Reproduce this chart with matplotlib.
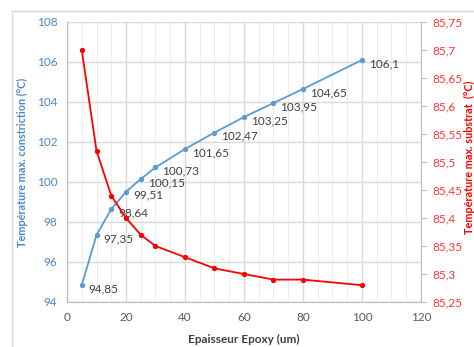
import matplotlib
matplotlib.use("Agg")
import matplotlib.pyplot as plt
from matplotlib.ticker import MultipleLocator, FuncFormatter
from matplotlib.patches import Rectangle

epaisseur = [5, 10, 15, 20, 25, 30, 40, 50, 60, 70, 80, 100]
t_constriction = [94.85, 97.35, 98.64, 99.51, 100.15, 100.73, 101.65, 102.47, 103.25, 103.95, 104.65, 106.1]
t_substrat = [85.70, 85.52, 85.44, 85.40, 85.37, 85.35, 85.33, 85.31, 85.30, 85.29, 85.29, 85.28]

plt.rcParams['font.family'] = ['Lato', 'DejaVu Sans']
blue = '#5B9BD5'
blue_txt = '#4A89C8'
red = '#FF0000'
red_txt = '#FF3333'
grid_major = '#D9D9D9'
grid_minor = '#EDEDED'

fig = plt.figure(figsize=(4.74, 3.47), dpi=100)
fig.patches.append(Rectangle((12/474, -0.1), 1.2, 1 - (-0.1) - 10.7/347, transform=fig.transFigure,
                             fill=False, edgecolor='#D9D9D9', linewidth=1.0))
ax = fig.add_axes([67/474, 1 - 302/347, (421 - 67)/474, (302 - 22)/347])
ax2 = ax.twinx()

ax.set_xlim(0, 120)
ax.set_ylim(94, 108)
ax2.set_ylim(85.25, 85.75)

ax.xaxis.set_major_locator(MultipleLocator(20))
ax.xaxis.set_minor_locator(MultipleLocator(5))
ax.yaxis.set_major_locator(MultipleLocator(2))
ax2.yaxis.set_major_locator(MultipleLocator(0.05))

ax.grid(True, which='major', color=grid_major, linewidth=1.0)
ax.grid(True, which='minor', axis='x', color=grid_minor, linewidth=0.8)
ax.set_axisbelow(True)

def comma(v, pos):
    s = ('%.2f' % v).rstrip('0').rstrip('.')
    return s.replace('.', ',')

ax2.yaxis.set_major_formatter(FuncFormatter(comma))

for a in (ax, ax2):
    a.spines['top'].set_visible(False)
    for s in ('left', 'right', 'bottom'):
        a.spines[s].set_color('#BFBFBF')
ax.spines['right'].set_visible(False)

ax.tick_params(axis='x', which='both', length=0, labelsize=8.5, colors='#595959', pad=7)
ax.tick_params(axis='y', which='both', length=0, labelsize=8.5, labelcolor=blue_txt, pad=7)
ax2.tick_params(axis='y', length=4, color='#BFBFBF', labelsize=8.5, labelcolor=red_txt, pad=4)

ax.plot(epaisseur, t_constriction, color=blue, linewidth=1.3, marker='o', markersize=2.8)
for x, y in zip(epaisseur, t_constriction):
    ax.annotate(comma(y, None), (x, y), xytext=(5, -2.5),
                textcoords='offset points', ha='left', va='center', fontsize=8.5, color='#404040')

ax2.plot(epaisseur, t_substrat, color=red, linewidth=1.3, marker='o', markersize=2.8)

ax.set_xlabel('Epaisseur Epoxy (um)', fontsize=8.5, fontweight='bold', color='#404040')
ax.xaxis.set_label_coords(0.5, -(334 - 302) / 280)
ax.set_ylabel('Température max. constriction (°C)', fontsize=7.8, fontweight='bold', color=blue_txt)
ax.yaxis.set_label_coords((28 - 67) / 354, 0.5)
ax2.set_ylabel('Température max. substrat  (°C)', fontsize=7.8, fontweight='bold', color=red)
ax2.yaxis.set_label_coords((464 - 67) / 354, (302 - 157) / 280)

fig.savefig('out.png', dpi=100)
